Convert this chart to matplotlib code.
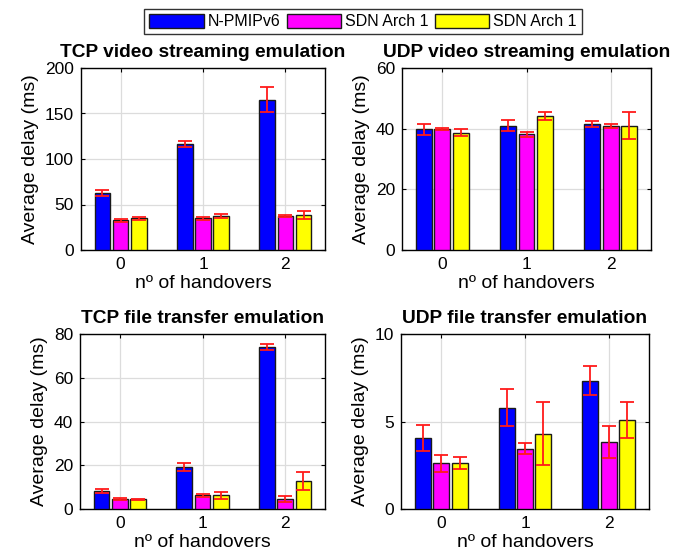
import matplotlib
matplotlib.use("Agg")
import matplotlib.pyplot as plt
from matplotlib.patches import Patch
import numpy as np

plt.rcParams['font.family'] = ['Liberation Sans', 'DejaVu Sans']

handovers = [0, 1, 2]
series_names = ["N-PMIPv6", "SDN Arch 1", "SDN Arch 1"]
series_colors = ["#0000ff", "#ff00ff", "#ffff00"]

# TCP video streaming (ms)
tcp_video = [[62.8, 116.0, 165.3],
             [32.8, 34.7, 37.6],
             [34.7, 37.6, 38.7]]
tcp_video_err = [[3.3, 3.3, 13.6],
                 [1.5, 1.6, 1.0],
                 [2.0, 2.5, 4.7]]

# UDP video streaming (ms)
udp_video = [[39.8, 41.0, 41.4],
             [39.8, 38.2, 41.0],
             [38.7, 44.2, 41.0]]
udp_video_err = [[1.9, 1.8, 1.0],
                 [0.35, 0.8, 0.65],
                 [1.05, 1.2, 4.4]]

# TCP file transfer (ms)
tcp_file = [[8.2, 19.2, 74.0],
            [4.5, 6.2, 4.5],
            [4.5, 6.2, 12.6]]
tcp_file_err = [[1.0, 1.7, 1.3],
                [0.6, 0.7, 1.4],
                [0.3, 1.6, 4.1]]

# UDP file transfer (ms)
udp_file = [[4.07, 5.78, 7.33],
            [2.61, 3.45, 3.83],
            [2.61, 4.30, 5.08]]
udp_file_err = [[0.74, 1.05, 0.84],
                [0.5, 0.3, 0.93],
                [0.35, 1.8, 1.05]]

panels = [
    ("TCP video streaming emulation", tcp_video, tcp_video_err, [0, 50, 100, 150, 200], 200),
    ("UDP video streaming emulation", udp_video, udp_video_err, [0, 20, 40, 60], 60),
    ("TCP file transfer emulation", tcp_file, tcp_file_err, [0, 20, 40, 60, 80], 80),
    ("UDP file transfer emulation", udp_file, udp_file_err, [0, 5, 10], 10),
]

W, H = 691, 556
# axes boxes in pixels: left, top, right, bottom
boxes = [(81, 68, 325, 250), (402, 68, 651, 250),
         (80, 334, 325, 509), (401, 334, 649, 509)]

fig = plt.figure(figsize=(W / 100, H / 100), dpi=100)

offsets = [-0.22, 0.0, 0.22]
bw = 0.19
x = np.arange(len(handovers))

for (title, vals, errs, yt, ymax), (l, t, r, b) in zip(panels, boxes):
    ax = fig.add_axes([l / W, (H - b) / H, (r - l) / W, (b - t) / H])
    for k in range(3):
        ax.bar(x + offsets[k], vals[k], bw, color=series_colors[k],
               edgecolor="#1a1a1a", linewidth=1.0, zorder=3)
        ax.errorbar(x + offsets[k], vals[k], yerr=errs[k], fmt="none",
                    ecolor="#ff1a1a", elinewidth=1.3, capsize=5, capthick=1.3, zorder=4)
    ax.set_xlim(-0.48, 2.48)
    ax.set_ylim(0, ymax)
    ax.set_xticks(x)
    ax.set_xticklabels([str(h) for h in handovers])
    ax.set_yticks(yt)
    ax.grid(True, color="#dcdcdc", linewidth=0.9, zorder=0)
    ax.set_axisbelow(True)
    ax.tick_params(direction="in", length=3, labelsize=12.5, top=True, right=True, pad=5)
    for s in ax.spines.values():
        s.set_linewidth(1.0)
    ax.set_title(title, fontsize=13.8, fontweight="bold", pad=8)
    ax.set_xlabel("nº of handovers", fontsize=14)
    # label sits just below the tick numbers, almost touching them
    ax.xaxis.set_label_coords(0.5, -(25 / (b - t)))
    ax.set_ylabel("Average delay (ms)", fontsize=14, labelpad=4)

handles = [Patch(facecolor=c, edgecolor="#1a1a1a", linewidth=1.0) for c in series_colors]
leg = fig.legend(handles, series_names, loc="center", bbox_to_anchor=(363 / W, 1 - 21.5 / H),
                 ncol=3, fontsize=11.5, frameon=True, fancybox=False, handlelength=3.4,
                 handleheight=1.0, handletextpad=0.25, columnspacing=0.4, borderpad=0.3,
                 borderaxespad=0)
leg.get_frame().set_edgecolor("black")
leg.get_frame().set_linewidth(1.0)

fig.savefig("out.png", dpi=100)
